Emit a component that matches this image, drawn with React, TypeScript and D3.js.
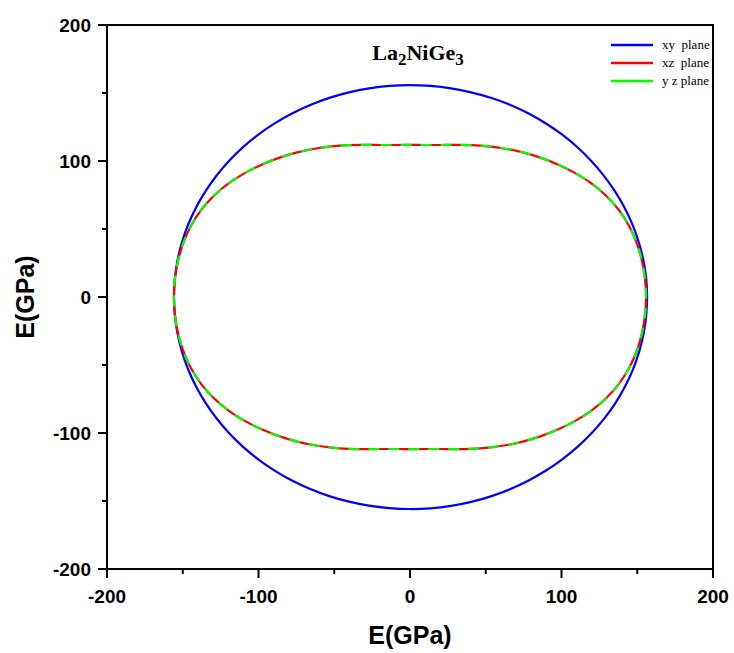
import React from "react";
import * as d3 from "d3";

const angles = d3.range(0, 360, 5);
const xyPlane = [
  156.5, 156.5, 156.4, 156.3, 156.2, 156.1, 156.0, 156.0, 156.0, 156.0, 156.0, 156.0, 156.0, 156.0, 155.9, 155.8, 155.8, 155.8, 155.8,
  155.8, 155.8, 155.8, 155.8, 155.8, 155.8, 155.8, 155.8, 155.8, 155.8, 155.8, 155.8, 155.8, 155.8, 155.8, 155.8, 155.8,
  155.8, 155.8, 155.8, 155.8, 155.8, 155.8, 155.8, 155.8, 155.8, 155.8, 155.8, 155.8, 155.8, 155.8, 155.8, 155.8, 155.8, 155.8,
  155.9, 156.0, 156.0, 156.0, 156.0, 156.0, 156.0, 156.0, 156.0, 156.1, 156.2, 156.3, 156.4, 156.4, 156.5, 156.5, 156.5, 156.5,
];
const xzPlane = [
  155.8, 155.7, 155.4, 154.8, 153.7, 151.9, 149.3, 145.9, 142.0, 137.9, 133.8, 129.8, 125.9, 122.2, 118.8, 115.8, 113.5, 112.2, 111.8,
  112.2, 113.5, 115.8, 118.8, 122.2, 125.9, 129.8, 133.8, 137.9, 142.0, 145.9, 149.3, 151.9, 153.7, 154.8, 155.4, 155.7, 155.8,
  155.7, 155.4, 154.8, 153.7, 151.9, 149.3, 145.9, 142.0, 137.9, 133.8, 129.8, 125.9, 122.2, 118.8, 115.8, 113.5, 112.2, 111.8,
  112.2, 113.5, 115.8, 118.8, 122.2, 125.9, 129.8, 133.8, 137.9, 142.0, 145.9, 149.3, 151.9, 153.7, 154.8, 155.4, 155.7,
];
const yzPlane = [
  155.8, 155.7, 155.4, 154.8, 153.7, 151.9, 149.3, 145.9, 142.0, 137.9, 133.8, 129.8, 125.9, 122.2, 118.8, 115.8, 113.5, 112.2, 111.8,
  112.2, 113.5, 115.8, 118.8, 122.2, 125.9, 129.8, 133.8, 137.9, 142.0, 145.9, 149.3, 151.9, 153.7, 154.8, 155.4, 155.7, 155.8,
  155.7, 155.4, 154.8, 153.7, 151.9, 149.3, 145.9, 142.0, 137.9, 133.8, 129.8, 125.9, 122.2, 118.8, 115.8, 113.5, 112.2, 111.8,
  112.2, 113.5, 115.8, 118.8, 122.2, 125.9, 129.8, 133.8, 137.9, 142.0, 145.9, 149.3, 151.9, 153.7, 154.8, 155.4, 155.7,
];
const majorTicks = [-200, -100, 0, 100, 200];
const minorTicks = [-150, -50, 50, 150];
const legendLabels = ["xy  plane", "xz  plane", "y z plane"];
const legendColors = ["#0000ff", "#ff0000", "#00ff00"];

const W = 734, H = 653;
const L = 107, R = 713, T = 25, B = 569;

export default function App() {
  const x = d3.scaleLinear().domain([-200, 200]).range([L, R]);
  const y = d3.scaleLinear().domain([-200, 200]).range([B, T]);
  const makePath = (vals: number[]) => {
    const pts: [number, number][] = angles.map((a, i) => {
      const t = (a * Math.PI) / 180;
      return [x(vals[i] * Math.cos(t)), y(vals[i] * Math.sin(t))];
    });
    return d3.line().curve(d3.curveCatmullRomClosed.alpha(0.5))(pts) || "";
  };
  const tickFont = { fontFamily: "'Liberation Sans', Arial, sans-serif", fontWeight: 700, fontSize: 19 };
  return (
    <svg width={W} height={H} style={{ position: "absolute", left: 0, top: 0 }}>
      <rect x={0} y={0} width={W} height={H} fill="#fff" />
      <path d={makePath(xyPlane)} fill="none" stroke="#0000ff" strokeWidth={2.2} />
      <path d={makePath(xzPlane)} fill="none" stroke="#ff0000" strokeWidth={2.2} />
      <path d={makePath(yzPlane)} fill="none" stroke="#00ff00" strokeWidth={2.2} strokeDasharray="11 9" />
      <rect x={L} y={T} width={R - L} height={B - T} fill="none" stroke="#000" strokeWidth={2} />
      {majorTicks.map((v) => (
        <g key={"ym" + v}>
          <line x1={L - 9} x2={L} y1={y(v)} y2={y(v)} stroke="#000" strokeWidth={2} />
          <text x={L - 16} y={y(v) + 7} textAnchor="end" style={tickFont}>{v}</text>
        </g>
      ))}
      {minorTicks.map((v) => (
        <line key={"yn" + v} x1={L - 5} x2={L} y1={y(v)} y2={y(v)} stroke="#000" strokeWidth={2} />
      ))}
      {majorTicks.map((v) => (
        <g key={"xm" + v}>
          <line x1={x(v)} x2={x(v)} y1={B} y2={B + 9} stroke="#000" strokeWidth={2} />
          <text x={x(v)} y={B + 34} textAnchor="middle" style={tickFont}>{v}</text>
        </g>
      ))}
      {minorTicks.map((v) => (
        <line key={"xn" + v} x1={x(v)} x2={x(v)} y1={B} y2={B + 5} stroke="#000" strokeWidth={2} />
      ))}
      <text x={(L + R) / 2} y={644} textAnchor="middle"
        style={{ fontFamily: "'Liberation Sans', Arial, sans-serif", fontWeight: 700, fontSize: 25 }}>E(GPa)</text>
      <text transform={`translate(34, ${(T + B) / 2}) rotate(-90)`} textAnchor="middle"
        style={{ fontFamily: "'Liberation Sans', Arial, sans-serif", fontWeight: 700, fontSize: 25 }}>E(GPa)</text>
      <text x={418} y={60} textAnchor="middle"
        style={{ fontFamily: "'Liberation Serif', 'Times New Roman', serif", fontWeight: 700, fontSize: 22 }}>
        La<tspan fontSize={17} dy={5}>2</tspan><tspan dy={-5}>NiGe</tspan><tspan fontSize={17} dy={5}>3</tspan>
      </text>
      {legendLabels.map((lab, i) => (
        <g key={lab}>
          <line x1={611} x2={653} y1={45 + i * 18} y2={45 + i * 18} stroke={legendColors[i]} strokeWidth={2.5} />
          <text x={662} y={49 + i * 18} xmlSpace="preserve"
            style={{ fontFamily: "'Liberation Serif', 'Times New Roman', serif", fontSize: 13, whiteSpace: "pre" }}>{lab}</text>
        </g>
      ))}
    </svg>
  );
}
